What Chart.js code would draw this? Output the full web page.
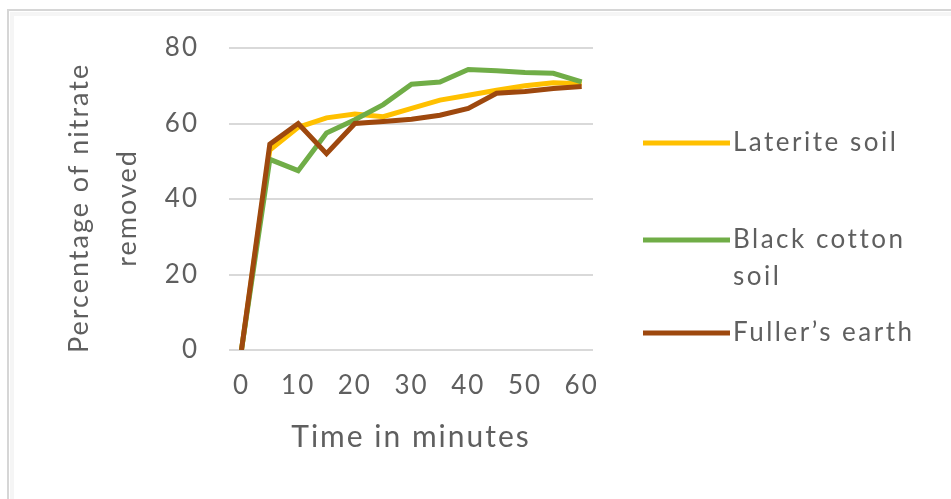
<!DOCTYPE html>
<html>
<head>
<meta charset="utf-8">
<script src="https://cdn.jsdelivr.net/npm/chart.js@4.4.1/dist/chart.umd.min.js"></script>
<style>
  html, body { margin: 0; padding: 0; background: #ffffff; }
  #wrap { position: relative; width: 951px; height: 499px; }
</style>
</head>
<body>
<div id="wrap"><canvas id="chart" width="951" height="499"></canvas></div>
<script>
// Sampling times (minutes)
const timeMinutes = [0, 5, 10, 15, 20, 25, 30, 35, 40, 45, 50, 55, 60];

// Percentage of nitrate removed for each adsorbent
const lateriteSoil     = [0, 53, 59, 61.5, 62.5, 61.8, 64, 66.2, 67.5, 68.8, 70, 70.8, 70.5];
const blackCottonSoil  = [0, 50.5, 47.5, 57.5, 61, 65, 70.4, 71, 74.3, 74, 73.5, 73.3, 71];
const fullersEarth     = [0, 54.5, 60, 52, 60, 60.5, 61.1, 62.2, 64, 68, 68.5, 69.3, 69.8];

// Axis tick labels
const xTicks = [0, 10, 20, 30, 40, 50, 60];
const yTicks = [0, 20, 40, 60, 80];

const seriesNames  = ['Laterite soil', ['Black cotton', 'soil'], "Fuller\u2019s earth"];
const seriesColors = ['#FFC000', '#70AD47', '#9E480E'];
const seriesValues = [lateriteSoil, blackCottonSoil, fullersEarth];

const FONT = 'Lato, "Open Sans", sans-serif';
const TEXT = '#5f5f5f';
const SPACING = '2px';

const toPoints = vals => vals.map((v, i) => ({ x: timeMinutes[i], y: v }));

// Slightly airy lettering for every label on the canvas
const spacingPlugin = {
  id: 'spacing',
  beforeUpdate(chart) { chart.ctx.letterSpacing = SPACING; },
  beforeDraw(chart) { chart.ctx.letterSpacing = SPACING; }
};

// Light frame along the top and left edges
const framePlugin = {
  id: 'frame',
  beforeDraw(chart) {
    const ctx = chart.ctx;
    ctx.save();
    ctx.strokeStyle = '#d6d6d6';
    ctx.lineWidth = 2;
    ctx.beginPath();
    ctx.moveTo(8, 499);
    ctx.lineTo(8, 10);
    ctx.lineTo(951, 10);
    ctx.stroke();
    ctx.strokeStyle = 'rgba(0,0,0,0.04)';
    ctx.lineWidth = 4;
    ctx.beginPath();
    ctx.moveTo(12, 499);
    ctx.lineTo(12, 14);
    ctx.lineTo(951, 14);
    ctx.stroke();
    ctx.restore();
  }
};

// Legend on the right, with wrapped labels
const sideLegend = {
  id: 'sideLegend',
  afterDraw(chart) {
    const ctx = chart.ctx;
    const rows = [143, 240, 333];
    ctx.save();
    ctx.letterSpacing = '2.5px';
    ctx.font = '26px ' + FONT;
    ctx.textBaseline = 'middle';
    ctx.textAlign = 'left';
    chart.data.datasets.forEach((ds, i) => {
      const y = rows[i];
      ctx.strokeStyle = ds.borderColor;
      ctx.lineWidth = 5;
      ctx.lineCap = 'butt';
      ctx.beginPath();
      ctx.moveTo(643, y);
      ctx.lineTo(730, y);
      ctx.stroke();
      ctx.fillStyle = TEXT;
      const lines = Array.isArray(ds.legendText) ? ds.legendText : [ds.legendText];
      lines.forEach((t, k) => ctx.fillText(t, 733, y + k * 37));
    });
    ctx.restore();
  }
};

new Chart(document.getElementById('chart'), {
  type: 'line',
  data: {
    datasets: seriesValues.map((vals, i) => ({
      label: Array.isArray(seriesNames[i]) ? seriesNames[i].join(' ') : seriesNames[i],
      legendText: seriesNames[i],
      data: toPoints(vals),
      borderColor: seriesColors[i],
      backgroundColor: seriesColors[i],
      borderWidth: 5,
      pointRadius: 0,
      tension: 0,
      fill: false,
      order: 3 - i
    }))
  },
  options: {
    responsive: false,
    animation: false,
    devicePixelRatio: 1,
    layout: { padding: { top: 48, right: 358, bottom: 0, left: 0 } },
    plugins: { legend: { display: false }, tooltip: { enabled: false } },
    scales: {
      x: {
        type: 'linear',
        min: -2.2,
        max: 62,
        afterBuildTicks(scale) { scale.ticks = xTicks.map(v => ({ value: v })); },
        afterFit(scale) { scale.height = 149; },
        grid: { display: false, drawTicks: false, tickLength: 0 },
        border: { display: false },
        ticks: { color: TEXT, font: { family: FONT, size: 26 }, padding: 20, maxRotation: 0, autoSkip: false },
        title: {
          display: true,
          text: 'Time in minutes',
          color: TEXT,
          font: { family: FONT, size: 30 },
          padding: { top: 0, bottom: 44 }
        }
      },
      y: {
        min: 0,
        max: 80,
        afterBuildTicks(scale) { scale.ticks = yTicks.map(v => ({ value: v })); },
        afterFit(scale) { scale.width = 229; },
        grid: { color: '#d9d9d9', lineWidth: 2, drawTicks: false, tickLength: 0 },
        border: { display: false },
        ticks: { color: TEXT, font: { family: FONT, size: 26 }, padding: 30 },
        title: {
          display: true,
          text: ['Percentage of nitrate  ', 'removed  '],
          color: TEXT,
          font: { family: FONT, size: 27, lineHeight: 1.75 },
          padding: { top: 56, bottom: 0 }
        }
      }
    }
  },
  plugins: [spacingPlugin, framePlugin, sideLegend]
});
</script>
</body>
</html>
